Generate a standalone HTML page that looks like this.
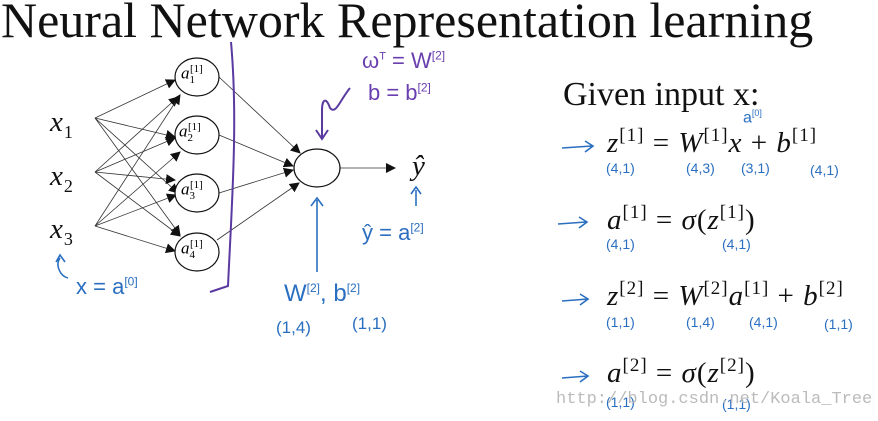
<!DOCTYPE html>
<html><head><meta charset="utf-8"><style>
body{margin:0;width:878px;height:421px;background:#fff;overflow:hidden;position:relative;font-family:"Liberation Serif",serif}
.t{position:absolute;white-space:nowrap}
.m{font-family:"Liberation Serif",serif;font-style:italic;font-size:29px;color:#111;letter-spacing:1px}
.m sup{font-style:normal;font-size:19px;vertical-align:11px}
.m .n{font-style:normal}
.b{color:#2a6fc0;font-family:"Liberation Sans",sans-serif;font-size:14px;position:absolute;white-space:nowrap}
</style></head><body>
<div class="t" style="left:1px;top:-9px;font-size:50px;color:#111">Neural Network Representation learning</div>
<div class="t" style="left:563px;top:76px;font-size:34px;color:#111">Given input x:</div>

<svg width="878" height="421" style="position:absolute;left:0;top:0">
<defs><marker id="a" markerWidth="10" markerHeight="10" refX="9" refY="5" orient="auto" markerUnits="userSpaceOnUse"><path d="M0,0L10,5L0,10z" fill="#111"/></marker></defs>
<g stroke="#333" stroke-width="0.8" fill="none" marker-end="url(#a)">
<line x1="95" y1="118" x2="175" y2="80"/><line x1="95" y1="118" x2="175" y2="137"/><line x1="95" y1="118" x2="178" y2="193"/><line x1="95" y1="118" x2="180" y2="235"/>
<line x1="95" y1="172" x2="178" y2="97"/><line x1="95" y1="172" x2="175" y2="138"/><line x1="95" y1="172" x2="175" y2="180"/><line x1="95" y1="172" x2="180" y2="236"/>
<line x1="95" y1="226" x2="180" y2="95"/><line x1="95" y1="226" x2="180" y2="152"/><line x1="95" y1="226" x2="176" y2="195"/><line x1="95" y1="226" x2="175" y2="251"/>
<line x1="219" y1="77" x2="300" y2="153"/><line x1="219" y1="135" x2="293" y2="166"/><line x1="219" y1="193" x2="293" y2="170"/><line x1="217" y1="240" x2="299" y2="183"/>
<line x1="340" y1="168" x2="395" y2="168"/>
</g>
<g stroke="#111" stroke-width="1.2" fill="#fff">
<ellipse cx="197" cy="77" rx="22" ry="19"/><ellipse cx="197" cy="135" rx="22" ry="19"/><ellipse cx="197" cy="193" rx="22" ry="19"/><ellipse cx="197" cy="252" rx="22" ry="19"/>
<ellipse cx="317" cy="168" rx="23" ry="19"/>
</g>
<g stroke="#5a3aa0" stroke-width="2" fill="none">
<path d="M231,42 C238,120 232,200 228,286 L210,292"/>
<path d="M350,88 C340,100 336,115 330,108 C326,96 322,100 322,110 L322,138 M316,130 L322,139 L328,130"/>
</g>
<g stroke="#2a6fc0" stroke-width="1.6" fill="none">
<path d="M317,272 L317,200 M311,206 L317,198 L323,206"/>
<path d="M416,206 L416,190 M411,194 L416,187 L421,194"/>
<path d="M60,258 C55,265 60,276 68,278 M56,262 L60,255 L65,262"/>
<path d="M562,148 L592,146 M585,141 L593,146 L585,152"/>
<path d="M558,224 L586,222 M579,217 L587,222 L579,228"/>
<path d="M562,301 L588,299 M580,294 L588,299 L580,305"/>
<path d="M562,378 L588,376 M580,371 L588,376 L580,382"/>
</g>
</svg>

<div class="t m" style="left:50px;top:106px">x<sub style="font-style:normal;font-size:18px">1</sub></div>
<div class="t m" style="left:50px;top:160px">x<sub style="font-style:normal;font-size:18px">2</sub></div>
<div class="t m" style="left:50px;top:213px">x<sub style="font-style:normal;font-size:18px">3</sub></div>
<div class="t m" style="left:412px;top:150px">ŷ</div>
<div class="t" style="left:181px;top:63px;font-size:17px;font-style:italic">a<sub style="font-style:normal;font-size:11px">1</sub><sup style="font-style:normal;font-size:11px;margin-left:-5px">[1]</sup></div>
<div class="t" style="left:179px;top:121px;font-size:17px;font-style:italic">a<sub style="font-style:normal;font-size:11px">2</sub><sup style="font-style:normal;font-size:11px;margin-left:-5px">[1]</sup></div>
<div class="t" style="left:181px;top:179px;font-size:17px;font-style:italic">a<sub style="font-style:normal;font-size:11px">3</sub><sup style="font-style:normal;font-size:11px;margin-left:-5px">[1]</sup></div>
<div class="t" style="left:181px;top:238px;font-size:17px;font-style:italic">a<sub style="font-style:normal;font-size:11px">4</sub><sup style="font-style:normal;font-size:11px;margin-left:-5px">[1]</sup></div>

<div class="b" style="left:362px;top:48px;color:#6a3fb0;font-size:22px">ω<sup style="font-size:11px">T</sup> = W<sup style="font-size:12px">[2]</sup></div>
<div class="b" style="left:368px;top:80px;color:#6a3fb0;font-size:22px">b = b<sup style="font-size:12px">[2]</sup></div>
<div class="b" style="left:76px;top:274px;font-size:22px">x = a<sup style="font-size:12px">[0]</sup></div>
<div class="b" style="left:362px;top:220px;font-size:22px">ŷ = a<sup style="font-size:12px">[2]</sup></div>
<div class="b" style="left:284px;top:280px;font-size:24px">W<sup style="font-size:12px">[2]</sup>, b<sup style="font-size:12px">[2]</sup></div>
<div class="b" style="left:276px;top:318px;font-size:17px">(1,4)</div>
<div class="b" style="left:352px;top:314px;font-size:17px">(1,1)</div>

<div class="t m" style="left:607px;top:125px">z<sup>[1]</sup> <span class="n">=</span> W<sup>[1]</sup>x <span class="n">+</span> b<sup>[1]</sup></div>
<div class="b" style="left:743px;top:108px;font-size:16px">a<sup style="font-size:9px">[0]</sup></div>
<div class="b" style="left:606px;top:160px">(4,1)</div><div class="b" style="left:686px;top:160px">(4,3)</div><div class="b" style="left:741px;top:160px">(3,1)</div><div class="b" style="left:810px;top:162px">(4,1)</div>
<div class="t m" style="left:607px;top:202px">a<sup>[1]</sup> <span class="n">=</span> σ<span class="n">(</span>z<sup>[1]</sup><span class="n">)</span></div>
<div class="b" style="left:606px;top:236px">(4,1)</div><div class="b" style="left:722px;top:236px">(4,1)</div>
<div class="t m" style="left:607px;top:278px">z<sup>[2]</sup> <span class="n">=</span> W<sup>[2]</sup>a<sup>[1]</sup> <span class="n">+</span> b<sup>[2]</sup></div>
<div class="b" style="left:606px;top:314px">(1,1)</div><div class="b" style="left:686px;top:314px">(1,4)</div><div class="b" style="left:749px;top:314px">(4,1)</div><div class="b" style="left:824px;top:316px">(1,1)</div>
<div class="t m" style="left:607px;top:355px">a<sup>[2]</sup> <span class="n">=</span> σ<span class="n">(</span>z<sup>[2]</sup><span class="n">)</span></div>
<div class="b" style="left:606px;top:394px">(1,1)</div><div class="b" style="left:722px;top:396px">(1,1)</div>
<div class="t" style="left:556px;top:390px;font-family:'Liberation Mono',monospace;font-size:17px;color:#bbb">http://blog.csdn.net/Koala_Tree</div>
</body></html>
